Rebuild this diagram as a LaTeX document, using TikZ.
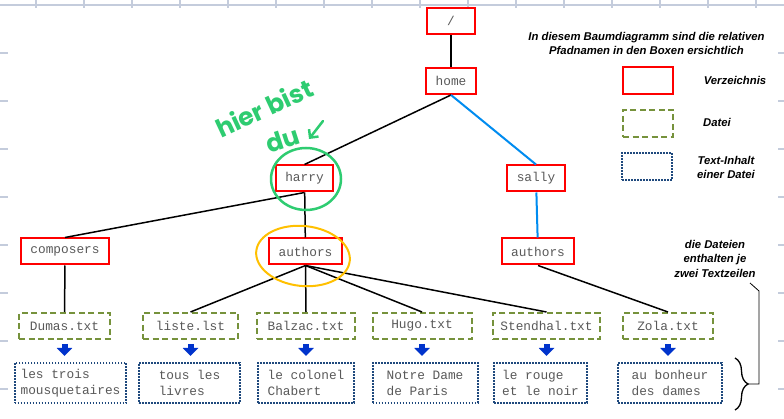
\documentclass[tikz,border=0pt]{standalone}
\usepackage{fontspec}
\setmainfont{Liberation Sans}
\setsansfont{Liberation Sans}
\setmonofont{Liberation Mono}
\newfontfamily\handfont{Poppins}
\usetikzlibrary{arrows.meta, calc, decorations.pathreplacing}

\definecolor{dirred}{RGB}{255,0,0}
\definecolor{fileolive}{RGB}{118,146,60}
\definecolor{txtblue}{RGB}{31,73,125}
\definecolor{arrowblue}{RGB}{0,51,204}
\definecolor{linkblue}{RGB}{0,140,240}
\definecolor{handgreen}{RGB}{46,204,113}
\definecolor{handyellow}{RGB}{255,192,0}
\definecolor{gridgray}{RGB}{196,204,220}

\begin{document}
\begin{tikzpicture}[
  x=1pt, y=-1pt,
  font=\sffamily,
  dirbox/.style={
    draw=dirred, line width=2pt, fill=white,
    minimum width=48pt, minimum height=26pt, inner xsep=9.5pt,
    font=\fontsize{12.8}{15}\ttfamily, text=black!65
  },
  filebox/.style={
    draw=fileolive, line width=2pt, dash pattern=on 6pt off 3.5pt, fill=white,
    minimum width=90pt, minimum height=26pt, inner xsep=7.5pt,
    font=\fontsize{12.8}{15}\ttfamily, text=black!65
  },
  txtbox/.style={
    draw=txtblue, line width=2pt, dash pattern=on 1.6pt off 1.4pt, fill=white,
    minimum height=40pt, inner xsep=6pt, align=left,
    font=\fontsize{12.8}{15.7}\ttfamily, text=black!65
  },
  tree/.style={line width=1.5pt},
  sallylink/.style={line width=2pt, draw=linkblue},
  down/.style={
    draw=arrowblue, line width=6pt, -{Triangle[width=15pt,length=8pt]},
    shorten <=4pt, shorten >=6pt
  },
  legend/.style={font=\fontsize{11.3}{14.5}\sffamily\bfseries\itshape, align=center},
  gridline/.style={draw=gridgray, line width=1.5pt},
  hand/.style={draw=handgreen, line width=2.5pt, line cap=round, line join=round},
  handtxt/.style={font=\fontsize{25}{25}\handfont\bfseries, text=handgreen, inner sep=1pt},
]
  \useasboundingbox (0,0) rectangle (784,419);

  % --- paper grid, only seen at the edges ---
  \foreach \gy in {5,53,...,400} \draw[gridline] (0,\gy) -- (784,\gy);
  \foreach \gx in {36,84,...,784} \draw[gridline] (\gx,0) -- (\gx,419);
  \fill[white] (8,8) rectangle (778,419);

  % --- directories ---
  \node[dirbox] (root) at (451,21) {/};
  \node[dirbox] (home) at (451,81) {home};
  \node[dirbox] (harry) at (304.5,178.5) {harry};
  \node[dirbox] (sally) at (536,178.5) {sally};
  \node[dirbox] (composers) at (65,251.5) {composers};
  \node[dirbox] (hauthors) at (305.5,251.5) {authors};
  \node[dirbox] (sauthors) at (538,251.5) {authors};

  % --- files ---
  \node[filebox, minimum width=91pt] (dumas) at (64.5,326) {Dumas.txt};
  \node[filebox, minimum width=95pt] (liste) at (190.5,326) {liste.lst};
  \node[filebox, minimum width=98pt] (balzac) at (306,326) {Balzac.txt};
  \node[filebox, minimum width=99pt] (hugo) at (422,326) {Hugo.txt};
  \node[filebox] (stendhal) at (546.5,326) {Stendhal.txt};
  \node[filebox] (zola) at (668,326) {Zola.txt};

  % --- file contents ---
  \node[txtbox] (tdumas) at (70.5,383) {les trois\\mousquetaires};
  \node[txtbox, minimum width=101pt] (tliste) at (189.5,383) {tous les\\livres};
  \node[txtbox, minimum width=96pt] (tbalzac) at (306,383) {le colonel\\Chabert};
  \node[txtbox, minimum width=105pt] (thugo) at (425,383) {Notre Dame\\de Paris};
  \node[txtbox, minimum width=93pt] (tstendhal) at (540.5,383) {le rouge\\et le noir};
  \node[txtbox, minimum width=104pt] (tzola) at (670,383) {au bonheur\\des dames};

  % --- tree connectors ---
  \draw[tree] (root) -- (home);
  \draw[tree] (home.south) -- (harry.north);
  \draw[sallylink] (home.south) -- (sally.north);
  \draw[tree] (harry.south) -- (composers.north);
  \draw[tree] (harry) -- (hauthors);
  \draw[sallylink] (sally) -- (sauthors);
  \draw[tree] (composers) -- (dumas);
  \foreach \f in {liste, balzac, hugo, stendhal}
    \draw[tree] (hauthors.south) -- (\f.north);
  \draw[tree] (sauthors.south) -- (zola.north);

  % --- file -> content arrows ---
  \foreach \f/\t in {dumas/tdumas, liste/tliste, balzac/tbalzac, hugo/thugo, stendhal/tstendhal, zola/tzola}
    \draw[down] (\f.south) -- (\f.south |- \t.north);

  % --- legend ---
  \node[legend] (title) at (646.5,43.5) {In diesem Baumdiagramm sind die relativen\\Pfadnamen in den Boxen ersichtlich};
  \node[dirbox, minimum width=50pt, minimum height=27pt] (legdir) at (648,80.5) {};
  \node[legend] (legdirtxt) at (735,80) {Verzeichnis};
  \node[filebox, minimum width=50pt, minimum height=27pt] (legfile) at (648,123.5) {};
  \node[legend] (legfiletxt) at (717,122) {Datei};
  \node[txtbox, minimum width=50pt, minimum height=27pt] (legtxt) at (647,166.5) {};
  \node[legend] (legtxttxt) at (726,167.5) {Text-Inhalt\\einer Datei};

  % --- note with brace ---
  \node[legend] (note) at (715,258.5) {die Dateien\\enthalten je\\zwei Textzeilen};
  \coordinate (notecorner) at (750,283);
  \coordinate (bracetip) at (748,384);
  \draw[line width=1.3pt, decorate, decoration={brace, amplitude=13pt}] (735,358) -- (735,410);
  \draw[line width=0.8pt] (notecorner) -- (759,291) -- (759,384) -- (bracetip);

  % --- handwritten marks ---
  \draw[hand] (306,179) ellipse [x radius=35, y radius=31];
  \draw[handyellow, line width=2pt, rotate around={-6:(303,256)}] (303,256) ellipse [x radius=47, y radius=30];
  \node[handtxt, rotate=25] (hier) at (264,108) {hier bist};
  \node[handtxt, rotate=18] (du) at (283,140) {du};
  \coordinate (handtail) at (323,121);
  \coordinate (handtip) at (309,139);
  \draw[hand, -{Straight Barb[length=6pt,width=12pt]}] (handtail) -- (handtip);

\end{tikzpicture}
\end{document}
